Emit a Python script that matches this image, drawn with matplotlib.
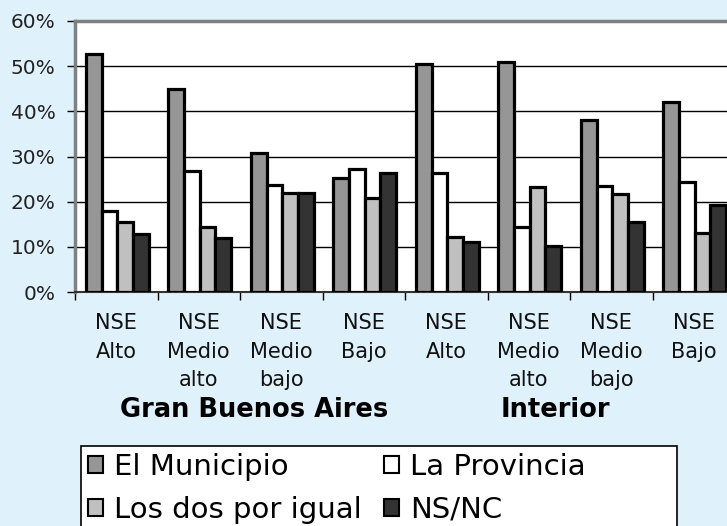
import matplotlib
matplotlib.use("Agg")
import matplotlib.pyplot as plt
import matplotlib.patches as mpatches
from matplotlib.ticker import PercentFormatter
import numpy as np

categories = ["NSE\nAlto", "NSE\nMedio\nalto", "NSE\nMedio\nbajo", "NSE\nBajo",
              "NSE\nAlto", "NSE\nMedio\nalto", "NSE\nMedio\nbajo", "NSE\nBajo"]
regions = ["Gran Buenos Aires", "Interior"]
series_names = ["El Municipio", "La Provincia", "Los dos por igual", "NS/NC"]
el_municipio = [52.8, 45.0, 30.8, 25.2, 50.4, 51.0, 38.0, 42.1]
la_provincia = [18.0, 26.8, 23.8, 27.3, 26.3, 14.4, 23.5, 24.4]
los_dos = [15.6, 14.4, 22.0, 20.9, 12.2, 23.3, 21.6, 13.1]
ns_nc = [12.8, 12.0, 22.0, 26.3, 11.0, 10.2, 15.6, 19.2]
yticks = [0, 10, 20, 30, 40, 50, 60]

series = [el_municipio, la_provincia, los_dos, ns_nc]
colors = ["#969696", "#FFFFFF", "#C0C0C0", "#333333"]
BG = "#DFF1FA"

W, H = 727, 526
fig = plt.figure(figsize=(W / 100, H / 100), dpi=100, facecolor=BG)
ax = fig.add_axes([75 / W, 1 - 292 / H, 660 / W, 271 / H])
ax.set_facecolor("white")

x = np.arange(len(categories))
bw = 0.19
offsets = [-0.272 + j * bw for j in range(4)]
for j, (vals, col, name) in enumerate(zip(series, colors, series_names)):
    ax.bar(x + offsets[j], vals, width=bw, color=col, edgecolor="black",
           linewidth=2.3, label=name, zorder=3)

ax.set_xlim(-0.5, len(categories) - 0.5)
ax.set_ylim(0, 60)
ax.set_yticks(yticks)
ax.yaxis.set_major_formatter(PercentFormatter(decimals=0))
ax.yaxis.grid(True, color="black", linewidth=1.0, zorder=1)
ax.set_axisbelow(True)

ax.set_xticks(np.arange(len(categories) + 1) - 0.5)
ax.set_xticklabels([])
ax.set_xticks(x, minor=True)
ax.set_xticklabels(categories, minor=True, fontsize=15, linespacing=1.55)
ax.tick_params(axis="x", which="major", length=6, width=1, direction="out", color="black")
ax.tick_params(axis="x", which="minor", length=0, pad=15)
ax.tick_params(axis="y", length=6, width=1, direction="out", color="black",
               labelsize=14.5, pad=8, colors="#222222")
for lab in ax.get_xticklabels(minor=True):
    lab.set_color("#111111")

for s in ["top", "left", "right"]:
    ax.spines[s].set_color("#808080")
    ax.spines[s].set_linewidth(2.5)
ax.spines["bottom"].set_color("#333333")
ax.spines["bottom"].set_linewidth(1.5)

fig.text(254 / W, 1 - 410 / H, regions[0], ha="center", va="center",
         fontsize=18.5, fontweight="bold", color="black")
fig.text(555 / W, 1 - 410 / H, regions[1], ha="center", va="center",
         fontsize=18.5, fontweight="bold", color="black")

# legend frame (extends past the bottom edge like the reference)
frame = mpatches.Rectangle((81 / W, -0.05), (677 - 81) / W, (1 - 446 / H) + 0.05,
                           transform=fig.transFigure, facecolor="white",
                           edgecolor="black", linewidth=1.2, zorder=0)
fig.patches.append(frame)

handles, labels = ax.get_legend_handles_labels()
order = [0, 2, 1, 3]  # row-wise fill: row 1 = Municipio, Provincia
handles = [handles[i] for i in order]
labels = [labels[i] for i in order]
leg = fig.legend(handles, labels, loc="upper left", ncol=2,
                 bbox_to_anchor=(85 / W, 1 - 450 / H), frameon=False,
                 fontsize=21, handlelength=0.52, handleheight=0.52,
                 handletextpad=0.38, columnspacing=0.75, labelspacing=0.5,
                 borderpad=0.1, borderaxespad=0)
for p in leg.get_patches():
    p.set_linewidth(1.5)

fig.savefig("out.png", dpi=100, facecolor=BG)
